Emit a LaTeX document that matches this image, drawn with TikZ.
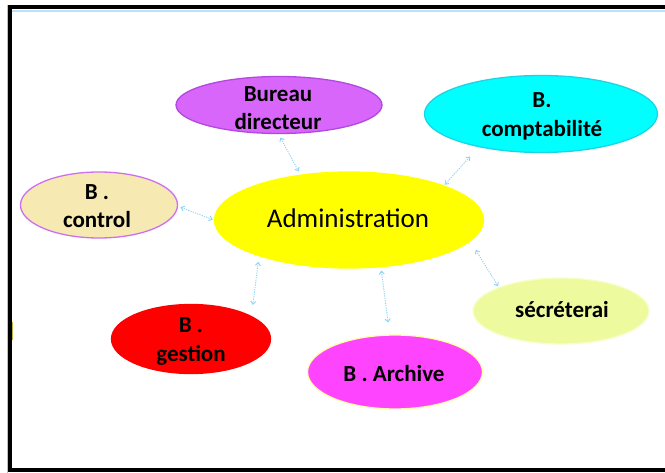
\documentclass[tikz,border=0pt]{standalone}
\usepackage{fontspec}
\setmainfont{Carlito}
\usetikzlibrary{shapes.geometric,arrows.meta}
\definecolor{bureauF}{RGB}{217,102,250}
\definecolor{bureauD}{RGB}{178,72,222}
\definecolor{comptaF}{RGB}{0,255,255}
\definecolor{comptaD}{RGB}{28,212,228}
\definecolor{controlF}{RGB}{246,233,178}
\definecolor{controlD}{RGB}{204,112,240}
\definecolor{adminF}{RGB}{255,255,0}
\definecolor{secrF}{RGB}{238,250,158}
\definecolor{secrD}{RGB}{246,255,200}
\definecolor{gestionF}{RGB}{255,0,0}
\definecolor{archiveF}{RGB}{255,68,255}
\definecolor{archiveD}{RGB}{255,255,170}
\definecolor{arrowblue}{RGB}{140,210,245}
\definecolor{topblue}{RGB}{190,225,250}
\begin{document}
\begin{tikzpicture}[x=1pt,y=-1pt,
  bubble/.style={ellipse, inner sep=0pt, line width=1.3pt},
  lbl/.style={anchor=base, inner sep=0pt, text=black, font=\bfseries\fontsize{23}{28}\selectfont},
  conn/.style={draw=arrowblue, line width=0.9pt, dash pattern=on 1.2pt off 1.2pt,
    {Straight Barb[length=3pt,width=5pt]}-{Straight Barb[length=3pt,width=5pt]}},
]
\useasboundingbox (0,0) rectangle (665,473);
\fill[white] (0,0) rectangle (665,473);
% frame
\draw[black!25, line width=0.8pt] (7.2,5) -- (7.2,473);
\draw[black, line width=4pt] (665,7) -- (10,7) -- (10,470.5) -- (665,470.5);
\draw[topblue, line width=1.6pt] (12,11) -- (665,11);
\draw[yellow!70!black, line width=1pt] (12.5,322) -- (12.5,340);

% ellipses
\node[bubble, fill=bureauF, draw=bureauD, minimum width=206pt, minimum height=57pt] (bureau) at (279,105) {};
\node[bubble, fill=comptaF, draw=comptaD, minimum width=233pt, minimum height=77pt] (compta) at (541,114) {};
\node[bubble, fill=controlF, draw=controlD, minimum width=157pt, minimum height=66pt] (control) at (99,205) {};
\node[bubble, fill=adminF, draw=adminF, minimum width=269pt, minimum height=96pt] (admin) at (349,220) {};
\node[bubble, fill=secrF, draw=secrD, minimum width=176pt, minimum height=66pt] (secr) at (561,311) {};
\node[bubble, fill=gestionF, draw=gestionF, minimum width=159pt, minimum height=69pt] (gestion) at (191,339) {};
\node[bubble, fill=archiveF, draw=archiveD, minimum width=175pt, minimum height=74pt] (archive) at (395,372) {};

% labels
\node[lbl] (bureau-a) at (278,102) {Bureau};
\node[lbl] (bureau-b) at (278,130) {directeur};
\node[lbl] (compta-a) at (542,108) {B.};
\node[lbl] (compta-b) at (542,137) {comptabilité};
\node[lbl] (control-a) at (97,200) {B .};
\node[lbl] (control-b) at (97,228) {control};
\node[lbl, font=\fontsize{27}{32}\selectfont] (admin-a) at (348,228) {Administration};
\node[lbl] (secr-a) at (562,318) {sécréterai};
\node[lbl] (gestion-a) at (191,333) {B .};
\node[lbl] (gestion-b) at (191,362) {gestion};
\node[lbl] (archive-a) at (394,382) {B . Archive};

% connectors
\draw[conn, shorten <=3.9pt, shorten >=3.7pt] (bureau.-91.6) -- (admin.137.8);
\draw[conn, shorten <=12.7pt, shorten >=1pt] (compta.208.1) -- (admin.20);
\draw[conn, shorten <=2.5pt, shorten >=1.2pt] (control.-1) -- (admin.180);
\draw[conn, shorten <=5.6pt, shorten >=11pt] (admin.202.8) -- (gestion.21.6);
\draw[conn, shorten <=3.3pt, shorten >=12pt] (admin.-56.9) -- (archive.98);
\draw[conn, shorten <=10pt, shorten >=1pt] (admin.-10.1) -- (secr.159.8);
\end{tikzpicture}
\end{document}
